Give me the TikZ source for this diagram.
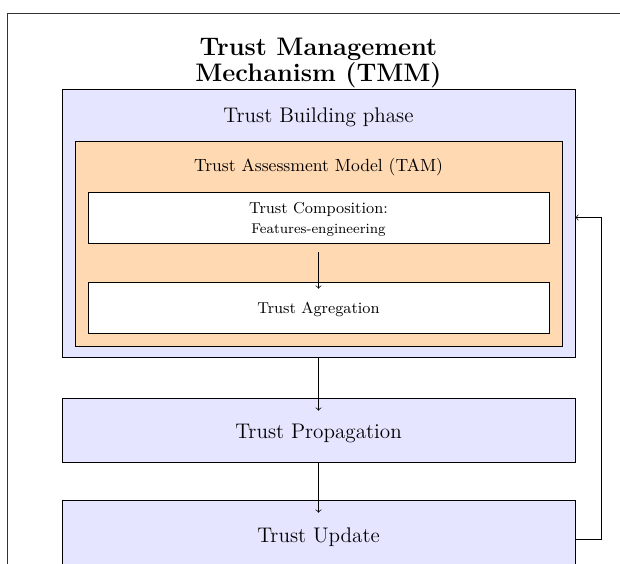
\documentclass[tikz,border=0pt]{standalone}
\usetikzlibrary{calc}
\def\px{0.568pt}
\tikzset{
  box/.style={draw=black, rectangle, inner sep=0pt, anchor=center},
  lbl/.style={inner sep=0pt, align=center},
  conn/.style={draw=black, ->},
}
\begin{document}
\begin{tikzpicture}[x=0.568pt, y=-0.568pt]
\useasboundingbox (0,0) rectangle (620,563);
\clip (0,0) rectangle (620,563);
% outer frame
\draw[draw=black!80] (7,13) rectangle (660,620);
% title
\node[lbl, font={\fontsize{14.4}{13}\selectfont\bfseries}] (title) at (318.5,63) {Trust Management\\Mechanism (TMM)};
% boxes
\node[box, fill=blue!10, minimum width=513*\px, minimum height=268*\px] (bld) at (318.5,223.5) {};
\node[lbl, font=\large] (bldlbl) at (318.5,117) {Trust Building phase};
\node[box, fill=orange!30, minimum width=487*\px, minimum height=205*\px] (tam) at (318.5,243.5) {};
\node[lbl] (tamlbl) at (318.5,167) {Trust Assessment Model (TAM)};
\node[box, fill=white, minimum width=461*\px, minimum height=51*\px] (comp) at (318.5,217.5) {};
\node[lbl, font=\small] (complbl) at (318.5,219.5) {Trust Composition:\\{\footnotesize Features-engineering}};
\node[box, fill=white, minimum width=461*\px, minimum height=51*\px] (agr) at (318.5,307.5) {};
\node[lbl, font=\small] (agrlbl) at (318.5,309) {Trust Agregation};
\node[box, fill=blue!10, minimum width=513*\px, minimum height=64*\px] (prop) at (318.5,430) {};
\node[lbl, font=\large] (proplbl) at (318.5,433.5) {Trust Propagation};
\node[box, fill=blue!10, minimum width=513*\px, minimum height=66*\px] (upd) at (318.5,533) {};
\node[lbl, font=\large] (updlbl) at (318.5,537) {Trust Update};
% connectors
\draw[conn] ($(comp.south)+(0,9)$) -- ($(agr.north)+(0,7)$);
\draw[conn] (bld.south) -- ($(prop.north)+(0,13)$);
\draw[conn] (prop.south) -- ($(upd.north)+(0,13)$);
\draw[conn] ($(upd.east)+(0,6)$) -- ++(26,0) |- (bld.east |- comp.center);
\end{tikzpicture}
\end{document}
